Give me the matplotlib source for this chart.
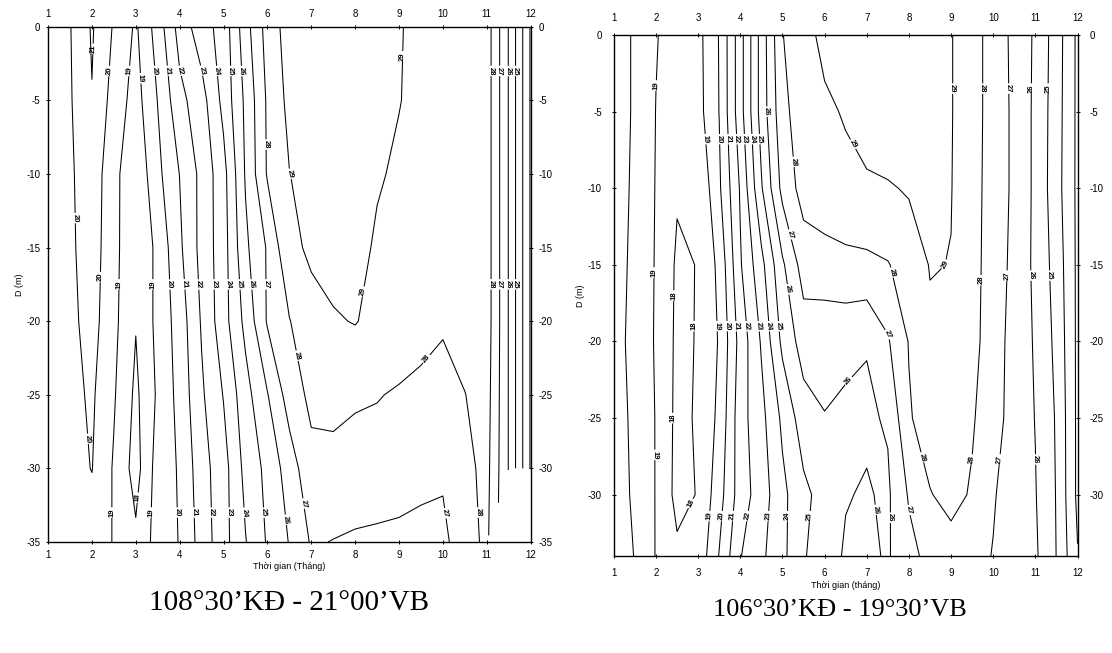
import numpy as np
import matplotlib
matplotlib.use("Agg")
import matplotlib.pyplot as plt

plt.rcParams['font.family'] = ['Liberation Sans', 'DejaVu Sans']
plt.rcParams['axes.unicode_minus'] = False

# ---------------- data ----------------
months = [1.0, 1.5, 2.0, 2.5, 3.0, 3.5, 4.0, 4.5, 5.0, 5.5, 6.0, 6.5,
          7.0, 7.5, 8.0, 8.5, 9.0, 9.5, 10.0, 10.5, 11.0, 11.5, 12.0]

# Station 108°30'E - 21°00'N : temperature (°C) by depth row
left_depths = [0, -5, -10, -15, -20, -25, -30, -35]
left_t_0 = [19.6, 19.95, 21.1, 19.9, 18.85, 20.45, 22.4, 23.55, 24.4, 26.6, 28.4, 29.45, 29.8, 30.0, 30.0, 29.6, 29.1, 28.6, 28.5, 28.5, 28.5, 25.95, 22.9]
left_t_5 = [19.6, 19.9, 20.96, 19.59, 18.6, 20.03, 21.7, 22.6, 24.3, 26.2, 28.15, 29.27, 29.6, 29.9, 29.9, 29.5, 29.05, 28.6, 28.5, 28.5, 28.5, 25.95, 22.9]
left_t_10 = [19.6, 19.85, 20.6, 19.3, 18.2, 19.75, 21.02, 22.28, 23.66, 26.09, 28.1, 28.98, 29.4, 29.7, 29.6, 29.15, 28.78, 28.6, 28.5, 28.5, 28.5, 25.95, 22.9]
left_t_15 = [19.6, 19.82, 20.5, 19.3, 18.15, 19.24, 20.82, 22.32, 23.58, 25.8, 27.1, 28.85, 29.1, 29.4, 29.5, 28.8, 28.6, 28.55, 28.5, 28.5, 28.5, 25.95, 22.9]
left_t_20 = [19.6, 19.75, 20.38, 19.25, 18.05, 19.27, 20.45, 22.1, 23.6, 25.27, 27.1, 27.95, 28.8, 28.9, 29.05, 28.7, 28.6, 28.3, 28.1, 28.4, 28.5, 25.95, 22.9]
left_t_25 = [19.6, 19.7, 20.15, 19.1, 17.8, 19.15, 20.33, 21.85, 23.05, 24.63, 25.95, 27.45, 28.24, 28.25, 28.1, 28.05, 27.9, 27.8, 27.7, 27.98, 28.4, 25.95, 22.9]
left_t_30 = [19.6, 19.65, 20.03, 18.9, 17.6, 19.44, 20.1, 21.6, 22.6, 24.3, 25.27, 26.49, 27.7, 27.75, 27.7, 27.6, 27.5, 27.3, 27.15, 27.7, 28.3, 25.95, 22.9]
left_t_35 = [19.6, 19.6, 19.5, 18.95, 18.2, 19.4, 20.05, 21.41, 22.64, 23.95, 25.1, 26.05, 27.1, 26.97, 26.85, 26.8, 26.75, 26.7, 26.75, 27.6, 28.2, np.nan, np.nan]

# Station 106°30'E - 19°30'N
right_depths = [0, -5, -10, -15, -20, -25, -30, -34]
right_t_0 = [20.4, 19.9, 19.05, 18.6, 18.7, 20.05, 22.6, 25.4, 27.97, 28.6, 29.3, 29.6, 29.8, 29.9, 29.9, 29.6, 29.05, 28.4, 27.6, 26.75, 25.85, 24.5, 22.8]
right_t_5 = [20.4, 19.9, 18.98, 18.5, 18.65, 20.02, 22.6, 25.4, 27.7, 28.6, 28.8, 29.1, 29.6, 29.8, 29.8, 29.5, 29.05, 28.4, 27.6, 26.8, 25.8, 24.45, 22.8]
right_t_10 = [20.4, 19.85, 18.95, 18.1, 18.05, 19.85, 22.1, 24.9, 27.3, 28.4, 28.6, 28.7, 28.8, 28.9, 29.1, 29.4, 29.03, 28.35, 27.6, 26.8, 25.8, 24.4, 22.8]
right_t_15 = [20.35, 19.8, 18.92, 17.85, 18.03, 19.24, 21.9, 23.7, 25.84, 27.44, 27.6, 27.75, 27.8, 27.95, 28.4, 29.05, 28.98, 28.3, 27.6, 26.7, 25.8, 24.6, 22.8]
right_t_20 = [20.3, 19.75, 18.9, 17.8, 18.05, 19.08, 21.38, 23.1, 25.24, 26.45, 26.3, 26.25, 26.05, 26.9, 28.05, 28.8, 28.7, 28.3, 27.5, 26.6, 25.9, 24.75, 22.8]
right_t_25 = [20.3, 19.85, 18.95, 17.75, 18.1, 19.23, 21.6, 22.7, 24.2, 25.53, 25.97, 25.8, 25.85, 26.1, 27.9, 28.5, 28.5, 28.1, 27.4, 26.6, 25.97, 24.9, 22.8]
right_t_30 = [20.3, 19.9, 18.95, 17.7, 18.05, 19.6, 21.5, 22.5, 23.75, 24.75, 25.4, 25.95, 26.08, 25.85, 27.1, 27.95, 28.3, 27.9, 27.1, 26.4, 26.05, 24.95, 22.8]
right_t_34 = [20.3, 19.98, 18.95, 18.2, 18.3, 20.05, 21.95, 22.8, 23.75, 24.9, 25.6, 26.1, 26.2, 25.9, 26.7, 27.3, 27.6, 27.4, 26.95, 26.5, 26.15, 24.98, 23.05]

levels = list(range(17, 31))
month_ticks = list(range(1, 13))
left_depth_ticks = list(range(0, -36, -5))
right_depth_ticks = list(range(0, -31, -5))

left_caption = "108°30’KĐ - 21°00’VB"
right_caption = "106°30’KĐ - 19°30’VB"
left_xlabel = "Thời gian (Tháng)"
right_xlabel = "Thời gian (tháng)"
ylabel = "D (m)"

# label anchor points (layout only)
left_label_pts = [
    (2.0, -1.5), (2.42, -3), (2.85, -3), (3.1, -3.5), (3.4, -3), (3.7, -3), (4.0, -3),
    (4.45, -3), (4.85, -3), (5.15, -3), (5.42, -3), (5.92, -8), (9.05, -2),
    (11.1, -3), (11.3, -3), (11.5, -3), (11.66, -3),
    (1.62, -13), (2.18, -17), (2.6, -17.5), (3.39, -17.5), (3.8, -17.5), (4.08, -17.5),
    (4.46, -17.5), (4.77, -17.5), (5.1, -17.5), (5.37, -17.5), (5.64, -17.5), (5.98, -17.5),
    (6.5, -10), (8.2, -18),
    (11.1, -17.5), (11.3, -17.5), (11.5, -17.5), (11.66, -17.5),
    (1.85, -28), (3.07, -32), (2.46, -33), (3.42, -33), (3.97, -33), (4.38, -33),
    (4.77, -33), (5.17, -33), (5.55, -33), (5.95, -33), (6.4, -33.5), (6.8, -32.4),
    (6.75, -22.3), (9.6, -22.5), (10.17, -33), (10.78, -33)]

right_label_pts = [
    (2.03, -3.3), (3.18, -6.8), (3.52, -6.8), (3.76, -6.8), (3.93, -6.8), (4.11, -6.8),
    (4.29, -6.8), (4.45, -6.8), (4.63, -5), (5.18, -8.3), (6.89, -6.8), (8.88, -15),
    (9.05, -3.5), (9.75, -3.5), (10.36, -3.5), (10.9, -3.5), (11.31, -3.5),
    (1.94, -15.5), (2.45, -17), (2.9, -19), (3.46, -19), (3.7, -19), (3.93, -19),
    (4.19, -19), (4.45, -19), (4.71, -19), (4.97, -19), (5.2, -13), (5.13, -16.6),
    (6.54, -22.5), (7.6, -15.5), (7.55, -19.5),
    (9.7, -16), (10.3, -15.7), (10.9, -15.7), (11.35, -15.7),
    (1.95, -27.4), (2.42, -25), (2.92, -30.7), (3.31, -31.4), (3.6, -31.4), (3.87, -31.4),
    (4.2, -31.4), (4.7, -31.4), (5.13, -31.4), (5.65, -31.4), (7.17, -31), (7.56, -31.5),
    (7.99, -31), (8.4, -27.5), (9.5, -27.7), (10.2, -27.7), (11.0, -27.7)]

# ---------------- figure ----------------
fig = plt.figure(figsize=(11.12, 6.53), dpi=100)
ax1 = fig.add_axes([0.0432, 0.170, 0.434, 0.789])
ax2 = fig.add_axes([0.552, 0.1485, 0.417, 0.798])


def draw(ax, depths, rows, ylim, yticks, xlabel, label_pts, xpad):
    z = np.ma.masked_invalid(np.array(rows, dtype=float))
    cs = ax.contour(months, depths, z, levels=levels, colors='black',
                    linewidths=0.75)
    labels = ax.clabel(cs, manual=label_pts, inline=True, fontsize=5.5,
                       fmt='%d', inline_spacing=1)
    for t in labels:
        t.set_fontweight('bold')
    ax.set_xlim(1, 12)
    ax.set_ylim(*ylim)
    ax.set_xticks(month_ticks)
    ax.set_yticks(yticks)
    ax.tick_params(axis='both', which='both', top=True, right=True,
                   labeltop=True, labelright=True, direction='inout',
                   length=3, width=0.7, labelsize=7, pad=xpad)
    for s in ax.spines.values():
        s.set_linewidth(1.0)
    ax.set_xlabel(xlabel, fontsize=6.5, labelpad=2)
    ax.set_ylabel(ylabel, fontsize=6.5, labelpad=2)


draw(ax1, left_depths,
     [left_t_0, left_t_5, left_t_10, left_t_15, left_t_20, left_t_25, left_t_30, left_t_35],
     (-35, 0), left_depth_ticks, left_xlabel, left_label_pts, 4)
draw(ax2, right_depths,
     [right_t_0, right_t_5, right_t_10, right_t_15, right_t_20, right_t_25, right_t_30, right_t_34],
     (-34, 0), right_depth_ticks, right_xlabel, right_label_pts, 7)

fig.text(0.26, 0.077, left_caption, family=['Liberation Serif', 'DejaVu Serif'],
         fontsize=21, ha='center', va='center')
fig.text(0.755, 0.066, right_caption, family=['Liberation Serif', 'DejaVu Serif'],
         fontsize=19, ha='center', va='center')

fig.savefig("out.png", dpi=100)
